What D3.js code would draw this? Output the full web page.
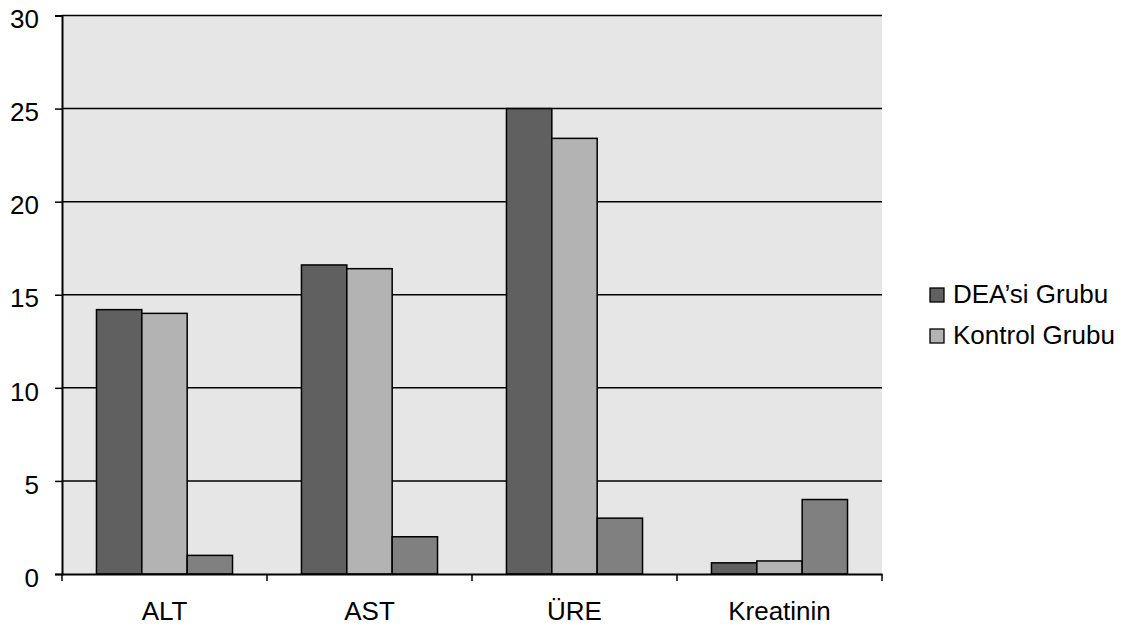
<!DOCTYPE html>
<html>
<head>
<meta charset="utf-8">
<script src="https://cdn.jsdelivr.net/npm/d3@7"></script>
<style>
  body { margin: 0; background: #fff; }
  text { font-family: "Liberation Sans", Arial, sans-serif; fill: #000; }
</style>
</head>
<body>
<div id="container"></div>
<script>
/* DATA */
const categories = ["ALT", "AST", "ÜRE", "Kreatinin"];
const deaValues = [14.2, 16.6, 25.0, 0.6];
const kontrolValues = [14.0, 16.4, 23.4, 0.7];
const thirdValues = [1.0, 2.0, 3.0, 4.0];
const seriesNames = ["DEA’si Grubu", "Kontrol Grubu", ""];
const seriesColors = ["#606060", "#b3b3b3", "#808080"];
const yTicks = [0, 5, 10, 15, 20, 25, 30];

/* CONSTANTS */
const width = 1129, height = 630;
const margin = { top: 15.5, right: 247, bottom: 56, left: 62 };
const fontSize = 26;

const svg = d3.select("#container").append("svg")
  .attr("width", width).attr("height", height);

const allSeries = [deaValues, kontrolValues, thirdValues];
const data = categories.map((c, i) => ({
  cat: c,
  vals: allSeries.map((s, j) => ({ key: j, v: s[i] }))
}));

// SCALES
const xScale = d3.scaleBand()
  .domain(categories)
  .range([margin.left, width - margin.right])
  .paddingInner(0).paddingOuter(0);

const xInner = d3.scaleBand()
  .domain([0, 1, 2])
  .range([0, xScale.bandwidth()])
  .paddingInner(0).paddingOuter(0.76);

const yScale = d3.scaleLinear()
  .domain([0, 30])
  .range([height - margin.bottom, margin.top]);

// PLOT BACKGROUND
svg.append("rect")
  .attr("x", margin.left).attr("y", margin.top)
  .attr("width", width - margin.right - margin.left)
  .attr("height", yScale(0) - margin.top)
  .attr("fill", "#e6e6e6");

// GRIDLINES
svg.append("g")
  .selectAll("line")
  .data(yTicks.filter(d => d > 0))
  .join("line")
  .attr("x1", margin.left).attr("x2", width - margin.right)
  .attr("y1", d => yScale(d)).attr("y2", d => yScale(d))
  .attr("stroke", "#000").attr("stroke-width", 1.5);

// BARS
svg.append("g")
  .selectAll("g")
  .data(data)
  .join("g")
  .attr("transform", d => `translate(${xScale(d.cat)},0)`)
  .selectAll("rect")
  .data(d => d.vals)
  .join("rect")
  .attr("x", d => xInner(d.key))
  .attr("width", xInner.bandwidth())
  .attr("y", d => yScale(d.v))
  .attr("height", d => yScale(0) - yScale(d.v))
  .attr("fill", d => seriesColors[d.key])
  .attr("stroke", "#000").attr("stroke-width", 1.5);

// AXES
const yAxis = d3.axisLeft(yScale).tickValues(yTicks).tickSize(7).tickPadding(16);
const yG = svg.append("g")
  .attr("transform", `translate(${margin.left},0)`)
  .call(yAxis);
yG.select(".domain").attr("stroke-width", 2);
yG.selectAll(".tick line").attr("stroke-width", 1.5);
yG.selectAll("text")
  .attr("font-size", fontSize)
  .attr("dy", "0.47em")
  .attr("font-family", "Liberation Sans, Arial, sans-serif");

const xAxis = d3.axisBottom(xScale).tickSize(0).tickPadding(28);
const xG = svg.append("g")
  .attr("transform", `translate(0,${yScale(0)})`)
  .call(xAxis);
xG.select(".domain").attr("stroke-width", 2);
xG.selectAll("text")
  .attr("font-size", fontSize)
  .attr("font-family", "Liberation Sans, Arial, sans-serif");

// category boundary ticks
xG.append("g")
  .selectAll("line")
  .data(categories.map(c => xScale(c)).concat([width - margin.right]))
  .join("line")
  .attr("x1", d => d).attr("x2", d => d)
  .attr("y1", 0).attr("y2", 7)
  .attr("stroke", "#000").attr("stroke-width", 1.5);

// LEGEND
const legend = svg.append("g")
  .attr("transform", "translate(930,288)");
const items = legend.selectAll("g")
  .data(seriesNames.slice(0, 2))
  .join("g")
  .attr("transform", (d, i) => `translate(0,${i * 41})`);
items.append("rect")
  .attr("width", 14).attr("height", 14)
  .attr("fill", (d, i) => seriesColors[i])
  .attr("stroke", "#000").attr("stroke-width", 1.3);
items.append("text")
  .attr("x", 23).attr("y", 15)
  .attr("font-size", fontSize)
  .text(d => d);
</script>
</body>
</html>
